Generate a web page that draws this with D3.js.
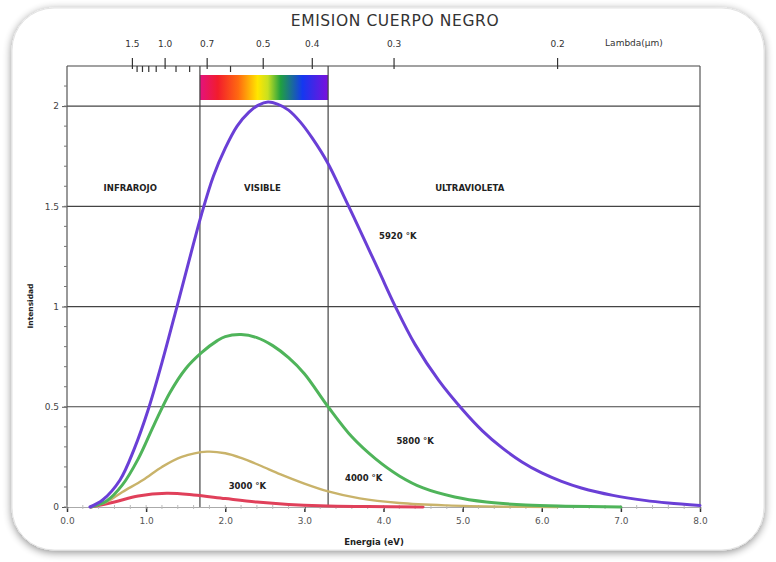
<!DOCTYPE html>
<html><head><meta charset="utf-8">
<script src="https://cdn.jsdelivr.net/npm/d3@7"></script>
<style>html,body{margin:0;padding:0;background:#fff;}svg{display:block;}</style>
</head><body>
<svg id="chart" width="776" height="562"></svg>
<script>
// ---- data ----
const title = "EMISION CUERPO NEGRO";
const xTicks = [0,1,2,3,4,5,6,7,8];
const yTicks = [0,0.5,1,1.5,2];
const lambdaMajor = [1.5,1.0,0.7,0.5,0.4,0.3,0.2];
const lambdaMinor = [1.4,1.3,1.2,1.1,0.9,0.8,0.6];
const visibleBand = [1.68, 3.3];   // eV
const t5920E = [0.29,0.45,0.67,0.85,1.03,1.2,1.39,1.55,1.7,1.85,2.0,2.15,2.3,2.42,2.54,2.66,2.8,2.95,3.1,3.29,3.5,3.75,3.95,4.15,4.4,4.7,5.0,5.25,5.5,5.75,6.0,6.25,6.5,6.9,7.3,7.6,8.0];
const t5920I = [0,0.035,0.135,0.29,0.49,0.72,1.0,1.24,1.46,1.65,1.79,1.9,1.97,2.005,2.02,2.01,1.98,1.92,1.84,1.72,1.55,1.34,1.17,1.0,0.81,0.63,0.485,0.38,0.295,0.225,0.17,0.128,0.095,0.058,0.033,0.02,0.008];
const t5800E = [0.3,0.5,0.7,0.9,1.1,1.3,1.5,1.7,1.9,2.0,2.2,2.4,2.6,2.8,3.0,3.3,3.6,3.9,4.2,4.5,4.9,5.3,5.8,6.3,7.0];
const t5800I = [0,0.03,0.11,0.24,0.41,0.57,0.69,0.77,0.83,0.85,0.86,0.845,0.805,0.745,0.665,0.5,0.35,0.24,0.155,0.095,0.05,0.025,0.01,0.004,0];
const t4000E = [0.3,0.5,0.7,0.96,1.2,1.45,1.77,2.0,2.2,2.44,2.7,3.0,3.3,3.7,4.2,4.8,5.5,6.2];
const t4000I = [0,0.025,0.075,0.135,0.2,0.25,0.276,0.268,0.245,0.207,0.163,0.117,0.078,0.043,0.02,0.008,0.002,0];
const t3000E = [0.3,0.6,0.9,1.26,1.6,2.0,2.4,2.8,3.2,3.8,4.5];
const t3000I = [0,0.025,0.055,0.068,0.06,0.042,0.025,0.013,0.006,0.002,0];
const seriesNames = ["3000 °K","4000 °K","5800 °K","5920 °K"];
const seriesColors = ["#e0405a","#c9b36a","#4fb45a","#6a3fd6"];
const labelE = [2.28,3.75,4.4,4.18];
const labelI = [0.105,0.145,0.33,1.35];
const regionNames = ["INFRAROJO","VISIBLE","ULTRAVIOLETA"];
const regionE = [0.8,2.47,5.09];
const regionI = 1.59;

// ---- chart ----
const svg = d3.select("#chart");
const defs = svg.append("defs");
const f = defs.append("filter").attr("id","sh").attr("x","-10%").attr("y","-10%").attr("width","120%").attr("height","120%");
f.append("feGaussianBlur").attr("in","SourceAlpha").attr("stdDeviation",4).attr("result","b");
f.append("feOffset").attr("in","b").attr("dx",0).attr("dy",2).attr("result","o");
f.append("feComponentTransfer").attr("in","o").attr("result","o2").append("feFuncA").attr("type","linear").attr("slope",0.45);
const mg = f.append("feMerge"); mg.append("feMergeNode").attr("in","o2"); mg.append("feMergeNode").attr("in","SourceGraphic");
svg.append("rect").attr("x",12).attr("y",8).attr("width",752).attr("height",542).attr("rx",42)
  .attr("fill","#fff").attr("stroke","#e4e4e4").attr("filter","url(#sh)");

const x = d3.scaleLinear().domain([0,8]).range([67,700]);
const y = d3.scaleLinear().domain([0,2.2]).range([507,66]);
const font = "DejaVu Sans, Verdana, sans-serif";

// spectrum gradient
const grad = defs.append("linearGradient").attr("id","spec");
[["0%","#e4127e"],["14%","#f21c2c"],["30%","#ff6a10"],["45%","#ffe600"],["53%","#c8e020"],["63%","#20a040"],["80%","#1438f0"],["100%","#7a10dc"]]
  .forEach(s=>grad.append("stop").attr("offset",s[0]).attr("stop-color",s[1]));
svg.append("rect").attr("x",x(visibleBand[0])).attr("y",75).attr("width",x(visibleBand[1])-x(visibleBand[0])).attr("height",25).attr("fill","url(#spec)");

// grid lines
svg.append("g").selectAll("line").data(yTicks.filter(d=>d>0)).join("line")
  .attr("x1",x(0)).attr("x2",x(8)).attr("y1",d=>y(d)).attr("y2",d=>y(d))
  .attr("stroke","#444").attr("stroke-width",1.2);
// frame: top, left, right
svg.append("line").attr("x1",x(0)).attr("x2",x(8)).attr("y1",y(2.2)).attr("y2",y(2.2)).attr("stroke","#444").attr("stroke-width",1.2);
svg.append("line").attr("x1",x(0)).attr("x2",x(0)).attr("y1",y(2.2)).attr("y2",y(0)).attr("stroke","#555").attr("stroke-width",1.2);
svg.append("line").attr("x1",x(8)).attr("x2",x(8)).attr("y1",y(2.2)).attr("y2",y(0)).attr("stroke","#555").attr("stroke-width",1.2);
// visible band lines
svg.append("g").selectAll("line").data(visibleBand).join("line")
  .attr("x1",d=>x(d)).attr("x2",d=>x(d)).attr("y1",y(2.2)).attr("y2",y(0))
  .attr("stroke","#444").attr("stroke-width",1.2);

// left axis
const yAxis = svg.append("g").attr("transform",`translate(${x(0)},0)`)
  .call(d3.axisLeft(y).tickValues(yTicks).tickFormat(d=>d===0?"0":String(d)).tickSize(5).tickPadding(3));
yAxis.select(".domain").remove();
yAxis.selectAll("text").attr("font-family",font).attr("font-size",9).attr("fill","#444");
yAxis.selectAll("line").attr("stroke","#555");
svg.append("g").selectAll("line").data(d3.range(0,22).map(i=>i/10)).join("line")
  .attr("x1",x(0)-3).attr("x2",x(0)).attr("y1",d=>y(d)).attr("y2",d=>y(d)).attr("stroke","#777");

// bottom axis
const xAxis = svg.append("g").attr("transform",`translate(0,${y(0)})`)
  .call(d3.axisBottom(x).tickValues(xTicks).tickFormat(d3.format(".1f")).tickSize(5).tickPadding(6));
xAxis.select(".domain").attr("stroke","#aaa");
xAxis.selectAll("text").attr("font-family",font).attr("font-size",9).attr("fill","#555");
xAxis.selectAll("line").attr("stroke","#333").attr("stroke-width",1.5);
svg.append("g").selectAll("line").data(d3.range(0,41).map(i=>i/5)).join("line")
  .attr("x1",d=>x(d)).attr("x2",d=>x(d)).attr("y1",y(0)-2).attr("y2",y(0)+2).attr("stroke","#bbb");

// top lambda axis (lambda = 1.24 / E)
const topAx = svg.append("g");
topAx.selectAll("line.maj").data(lambdaMajor).join("line").attr("class","maj")
  .attr("x1",d=>x(1.24/d)).attr("x2",d=>x(1.24/d)).attr("y1",y(2.2)-8).attr("y2",y(2.2)+3).attr("stroke","#333").attr("stroke-width",1.2);
topAx.selectAll("line.min").data(lambdaMinor).join("line").attr("class","min")
  .attr("x1",d=>x(1.24/d)).attr("x2",d=>x(1.24/d)).attr("y1",y(2.2)).attr("y2",y(2.2)+6).attr("stroke","#333").attr("stroke-width",1.2);
topAx.selectAll("text").data(lambdaMajor).join("text")
  .attr("x",d=>x(1.24/d)).attr("y",47).attr("text-anchor","middle")
  .attr("font-family",font).attr("font-size",9).attr("fill","#333").text(d=>d.toFixed(1));
svg.append("text").attr("x",634).attr("y",46).attr("text-anchor","middle").attr("font-family",font)
  .attr("font-size",9).attr("fill","#333").text("Lambda(μm)");

// curves
const Es = [t3000E,t4000E,t5800E,t5920E], Is = [t3000I,t4000I,t5800I,t5920I];
const line = d3.line().x(d=>x(d[0])).y(d=>y(Math.max(0,d[1]))).curve(d3.curveCatmullRom.alpha(0.5));
Es.forEach((E,k)=>{
  svg.append("path").datum(E.map((e,i)=>[e,Is[k][i]])).attr("d",line)
    .attr("fill","none").attr("stroke",seriesColors[k]).attr("stroke-width",k===1?2.4:3)
    .attr("stroke-linejoin","round").attr("stroke-linecap","round");
});

// labels
svg.append("g").selectAll("text").data(seriesNames).join("text")
  .attr("x",(d,i)=>x(labelE[i])).attr("y",(d,i)=>y(labelI[i])+3).attr("text-anchor","middle")
  .attr("font-family",font).attr("font-size",8.5).attr("font-weight","bold").attr("fill","#222").text(d=>d);
svg.append("g").selectAll("text").data(regionNames).join("text")
  .attr("x",(d,i)=>x(regionE[i])).attr("y",y(regionI)+3).attr("text-anchor","middle")
  .attr("font-family",font).attr("font-size",8.5).attr("font-weight","bold").attr("fill","#222").text(d=>d);

svg.append("text").attr("x",395).attr("y",26).attr("text-anchor","middle").attr("font-family",font)
  .attr("font-size",15.5).attr("letter-spacing",0.6).attr("fill","#333").text(title);
svg.append("text").attr("x",374).attr("y",545).attr("text-anchor","middle").attr("font-family",font)
  .attr("font-size",8.5).attr("font-weight","bold").attr("fill","#222").text("Energia (eV)");
svg.append("text").attr("transform","translate(33,306) rotate(-90)").attr("text-anchor","middle").attr("font-family",font)
  .attr("font-size",7.5).attr("font-weight","bold").attr("fill","#222").text("Intensidad");
</script>
</body></html>
